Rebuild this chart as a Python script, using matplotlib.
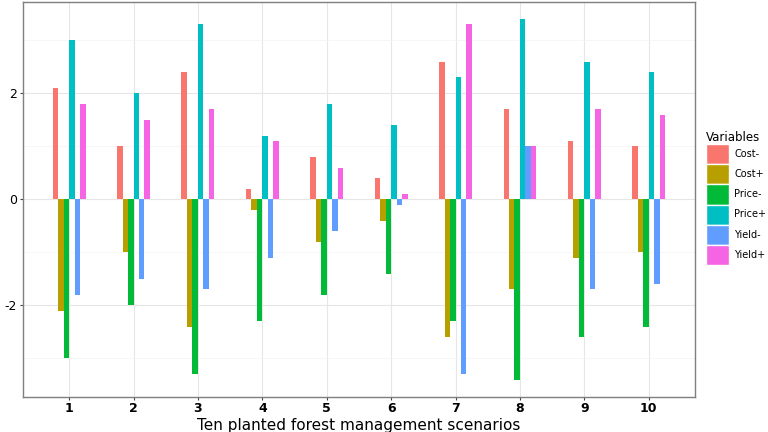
import numpy as np
import matplotlib
matplotlib.use("Agg")
from matplotlib import pyplot as plt
from matplotlib.patches import Patch

scenarios = np.arange(1, 11)
variables = ['Cost-', 'Cost+', 'Price-', 'Price+', 'Yield-', 'Yield+']
colors = ['#F8766D', '#B79F00', '#00BA38', '#00BFC4', '#619CFF', '#F564E3']

cost_minus = [2.1, 1.0, 2.4, 0.2, 0.8, 0.4, 2.6, 1.7, 1.1, 1.0]
cost_plus = [-2.1, -1.0, -2.4, -0.2, -0.8, -0.4, -2.6, -1.7, -1.1, -1.0]
price_minus = [-3.0, -2.0, -3.3, -2.3, -1.8, -1.4, -2.3, -3.4, -2.6, -2.4]
price_plus = [3.0, 2.0, 3.3, 1.2, 1.8, 1.4, 2.3, 3.4, 2.6, 2.4]
yield_minus = [-1.8, -1.5, -1.7, -1.1, -0.6, -0.1, -3.3, 1.0, -1.7, -1.6]
yield_plus = [1.8, 1.5, 1.7, 1.1, 0.6, 0.1, 3.3, 1.0, 1.7, 1.6]

series = [cost_minus, cost_plus, price_minus, price_plus, yield_minus, yield_plus]

fig = plt.figure(figsize=(7.68, 4.32), dpi=100)
ax = fig.add_axes([0.0296, 0.082, 0.8755, 0.913])

w = 0.085
for i, (vals, c) in enumerate(zip(series, colors)):
    ax.bar(scenarios + (i - 2.5) * w, vals, width=w, color=c, zorder=3, linewidth=0)

ax.set_xlim(0.28, 10.72)
ax.set_ylim(-3.72, 3.72)
ax.set_xticks(scenarios)
ax.set_xticklabels([str(s) for s in scenarios], fontsize=9, fontweight='bold')
ax.set_yticks([-2, 0, 2])
ax.set_yticklabels(['-2', '0', '2'], fontsize=9)
ax.set_yticks([-3, -1, 1, 3], minor=True)
ax.tick_params(axis='both', length=2, color='#444444', pad=2)
ax.tick_params(axis='y', which='minor', length=0)
ax.grid(True, which='major', color='#e6e6e6', linewidth=0.8, zorder=0)
ax.grid(True, which='minor', axis='y', color='#f3f3f3', linewidth=0.5, zorder=0)
for sp in ax.spines.values():
    sp.set_color('#7f7f7f')
    sp.set_linewidth(1.0)
ax.set_xlabel('Ten planted forest management scenarios', fontsize=11, labelpad=2)

handles = [Patch(facecolor=c, edgecolor='white', linewidth=1) for c in colors]
fig.legend(handles, variables, loc='upper left', bbox_to_anchor=(0.914, 0.705),
           frameon=False, fontsize=7, title='Variables', title_fontsize=8.5,
           handlelength=2.4, handleheight=2.8, handletextpad=0.5,
           labelspacing=0.0, borderaxespad=0, alignment='left')

fig.savefig('out.png', dpi=100)
